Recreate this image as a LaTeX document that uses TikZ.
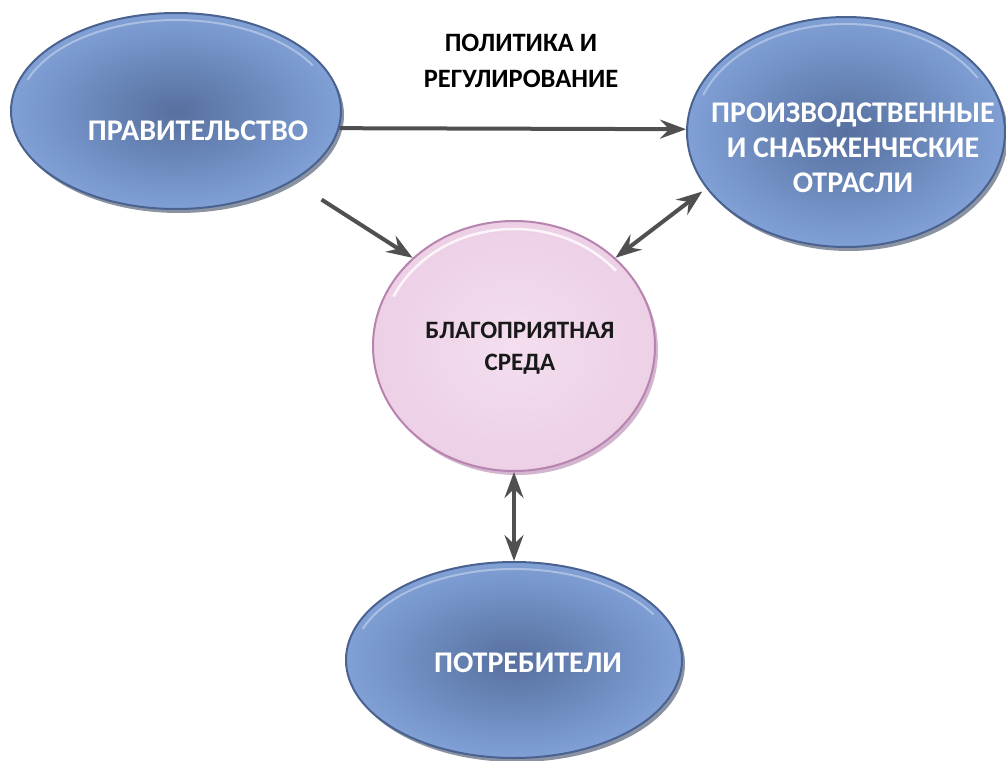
\documentclass[tikz,border=0pt]{standalone}
\usepackage{fontspec}
\setmainfont{Carlito}
\usetikzlibrary{shapes.geometric,arrows.meta}
\definecolor{bluein}{HTML}{56709F}
\definecolor{blueout}{HTML}{80A0D6}
\definecolor{bluerim}{HTML}{4A6290}
\definecolor{pinkin}{HTML}{F3DEEF}
\definecolor{pinkout}{HTML}{EDD0E6}
\definecolor{pinkrim}{HTML}{B784AF}
\definecolor{arrowgray}{HTML}{505050}
\begin{document}
\begin{tikzpicture}[x=1pt,y=-1pt,
  shapebase/.style={ellipse, inner sep=0pt, line width=2pt},
  blueell/.style 2 args={shapebase, minimum width=#1pt, minimum height=#2pt,
    draw=bluerim, inner color=bluein, outer color=blueout,
    preaction={fill=bluerim!60!black, opacity=0.55, transform canvas={shift={(3pt,-4pt)}}},
    path picture={\draw[white, opacity=0.35, line width=2pt]
      (path picture bounding box.center) ++(200:#1/2-7 and #2/2-7)
      arc[start angle=200, end angle=330, x radius=#1/2-7, y radius=#2/2-7];}},
  pinkell/.style 2 args={shapebase, minimum width=#1pt, minimum height=#2pt,
    draw=pinkrim, inner color=pinkin, outer color=pinkout,
    preaction={fill=pinkrim, opacity=0.6, transform canvas={shift={(3pt,-4pt)}}},
    path picture={\draw[white, opacity=0.8, line width=2.5pt]
      (path picture bounding box.center) ++(205:#1/2-8 and #2/2-8)
      arc[start angle=205, end angle=320, x radius=#1/2-8, y radius=#2/2-8];}},
  wtext/.style={text=white, font=\bfseries\fontsize{30}{35}\selectfont, align=center},
  dtext/.style={text=black!90, font=\bfseries\fontsize{25}{32}\selectfont, align=center},
  ttext/.style={text=black, font=\bfseries\fontsize{26.5}{35.5}\selectfont, align=center},
  arr/.style={draw=arrowgray, line width=4pt, -{Stealth[length=26pt,width=19pt,inset=9pt]}},
  darr/.style={draw=arrowgray, line width=4pt, {Stealth[length=26pt,width=19pt,inset=9pt]}-{Stealth[length=26pt,width=19pt,inset=9pt]}}
]
\useasboundingbox (0,0) rectangle (1006,760);
\fill[white] (0,0) rectangle (1006,760);

\node[blueell={330}{196}] (gov) at (176,111) {};
\node[blueell={318}{230}] (ind) at (846,132) {};
\node[pinkell={282}{250}] (env) at (514,346) {};
\node[blueell={336}{196}] (cons) at (514,660) {};

\node[wtext] (govt) at (198,131) {ПРАВИТЕЛЬСТВО};
\node[wtext] (indt) at (853,148) {ПРОИЗВОДСТВЕННЫЕ\\И СНАБЖЕНЧЕСКИЕ\\ОТРАСЛИ};
\node[dtext] (envt) at (520,348) {БЛАГОПРИЯТНАЯ\\СРЕДА};
\node[wtext] (const) at (528,663) {ПОТРЕБИТЕЛИ};
\node[ttext] (title) at (521,61) {ПОЛИТИКА И\\РЕГУЛИРОВАНИЕ};

\draw[arr] (gov.-6) -- (ind.179);
\draw[arr, shorten <=34pt] (gov.-31) -- (env.139);
\draw[darr, shorten >=5pt] (env.41) -- (ind.202);
\draw[darr] (env.south) -- (cons.north);
\end{tikzpicture}
\end{document}
